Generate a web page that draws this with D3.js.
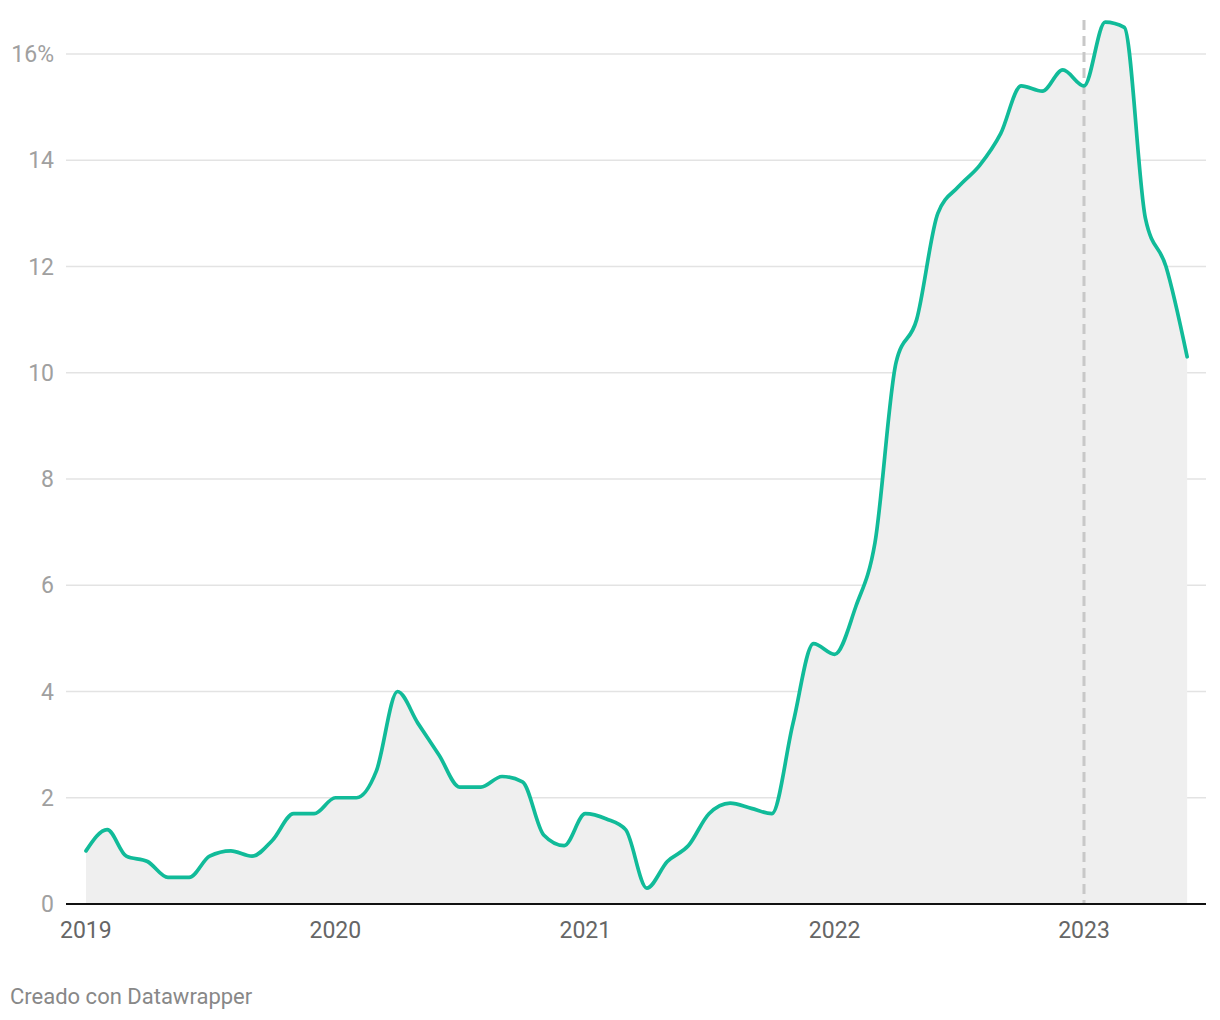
<!DOCTYPE html>
<html><head><meta charset="utf-8">
<script src="https://cdn.jsdelivr.net/npm/d3@7"></script>
<style>body{margin:0;background:#fff;font-family:Roboto,"Noto Sans",sans-serif;}</style>
</head><body><svg id="c" width="1220" height="1020"></svg>
<script>
const startYear = 2019, startMonth = 0;
const values = [
 1.0,1.4,0.9,0.8,0.5,0.5,0.9,1.0,0.9,1.2,1.7,1.7,
 2.0,2.0,2.5,4.0,3.4,2.8,2.2,2.2,2.4,2.3,1.3,1.1,
 1.7,1.6,1.4,0.3,0.8,1.1,1.7,1.9,1.8,1.7,3.4,4.9,
 4.7,5.6,6.8,10.2,11.0,13.0,13.5,13.9,14.5,15.4,15.3,15.7,
 15.4,16.6,16.5,12.9,12.0,10.3
];
const yTicks = [0,2,4,6,8,10,12,14,16];
const xTickYears = [2019,2020,2021,2022,2023];
const markerDate = new Date(2023,0,1);
const footer = "Creado con Datawrapper";

const data = values.map((v,i)=>({d:new Date(startYear,startMonth+i,1),v}));
const svg = d3.select("#c");
const x = d3.scaleTime().domain([new Date(2019,0,1), new Date(2023,0,1)]).range([86,1084]);
const y = d3.scaleLinear().domain([0,16]).range([904,54]);
const left=66, right=1206;

// grid
svg.append("g").selectAll("line").data(yTicks.filter(t=>t>0)).join("line")
  .attr("x1",left).attr("x2",right).attr("y1",d=>y(d)).attr("y2",d=>y(d))
  .attr("stroke","#e3e3e3").attr("stroke-width",1.5);
svg.append("g").selectAll("text").data(yTicks).join("text")
  .attr("x",54).attr("y",d=>y(d)).attr("dy","0.35em").attr("text-anchor","end")
  .attr("fill","#a0a0a0").attr("font-size",23)
  .text(d=>d===16?"16%":d);

// area
svg.append("path").datum(data)
  .attr("d",d3.area().x(d=>x(d.d)).y0(y(0)).y1(d=>y(d.v)).curve(d3.curveMonotoneX))
  .attr("fill","#efefef");

// marker
svg.append("line").attr("x1",x(markerDate)).attr("x2",x(markerDate))
  .attr("y1",20).attr("y2",y(0)).attr("stroke","#c8c8c8").attr("stroke-width",3)
  .attr("stroke-dasharray","10,6");

// line
svg.append("path").datum(data)
  .attr("d",d3.line().x(d=>x(d.d)).y(d=>y(d.v)).curve(d3.curveMonotoneX))
  .attr("fill","none").attr("stroke","#11bb99").attr("stroke-width",3.7)
  .attr("stroke-linejoin","round").attr("stroke-linecap","round");

// baseline
svg.append("line").attr("x1",left).attr("x2",right).attr("y1",y(0)).attr("y2",y(0))
  .attr("stroke","#111").attr("stroke-width",2);

// x axis labels
svg.append("g").selectAll("text").data(xTickYears).join("text")
  .attr("x",(d,i)=> i===0 ? 60 : x(new Date(d,0,1))).attr("y",938)
  .attr("text-anchor",(d,i)=>i===0?"start":"middle")
  .attr("fill","#666").attr("font-size",23).text(d=>d);

svg.append("text").attr("x",10).attr("y",1004).attr("fill","#888").attr("font-size",22).text(footer);
</script></body></html>
